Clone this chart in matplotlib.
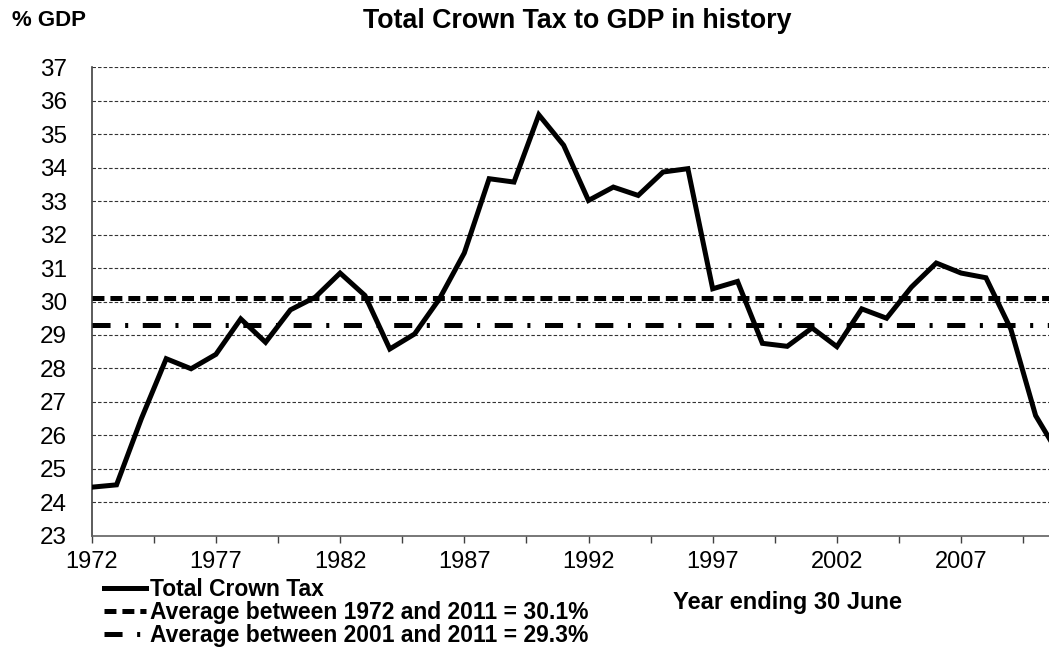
import matplotlib
matplotlib.use("Agg")
import matplotlib.pyplot as plt
from matplotlib.ticker import FixedLocator

plt.rcParams['font.family'] = ['Liberation Sans', 'DejaVu Sans']
plt.rcParams['lines.scale_dashes'] = False

years = list(range(1972, 2012))
total_crown_tax = [24.45, 24.52, 26.5, 28.29, 27.99, 28.42, 29.48, 28.78, 29.75, 30.13,
                   30.85, 30.18, 28.58, 29.03, 30.08, 31.45, 33.67, 33.57, 35.58, 34.67,
                   33.02, 33.42, 33.17, 33.87, 33.97, 30.38, 30.6, 28.75, 28.66, 29.21,
                   28.65, 29.78, 29.5, 30.43, 31.15, 30.85, 30.71, 29.18, 26.59, 25.35]
avg_1972_2011 = 30.1
avg_2001_2011 = 29.3
series_labels = ["Total Crown Tax",
                 "Average between 1972 and 2011 = 30.1%",
                 "Average between 2001 and 2011 = 29.3%"]
major_years = [1972, 1977, 1982, 1987, 1992, 1997, 2002, 2007]
y_ticks = list(range(23, 38))

W, H = 1049, 648
fig = plt.figure(figsize=(W / 100, H / 100), dpi=100)
ax_left, ax_right_px, ax_top, ax_bottom = 91.7, 1049, 67.3, 535.7
ax = fig.add_axes([ax_left / W, 1 - ax_bottom / H, (ax_right_px - ax_left) / W,
                   (ax_bottom - ax_top) / H])

xmax = 1972 + (ax_right_px - ax_left) / 24.84
ax.set_xlim(1972, xmax)
ax.set_ylim(23, 37)

# gridlines
for y in y_ticks[1:]:
    ax.axhline(y, color='#333333', lw=0.8, dashes=(2.5, 1.5), zorder=1)

l1, = ax.plot(years, total_crown_tax, color='black', lw=3.6, solid_joinstyle='miter',
              zorder=4, label=series_labels[0])
l2, = ax.plot([years[0], years[-1]], [avg_1972_2011] * 2, color='black', lw=3.6,
              dashes=(8.6, 4.3), zorder=3, label=series_labels[1])
l3, = ax.plot([years[0], years[-1]], [avg_2001_2011] * 2, color='black', lw=3.6,
              dashes=(13, 10.5, 2.2, 10.5), zorder=3, label=series_labels[2])

for s in ['top', 'right']:
    ax.spines[s].set_visible(False)
ax.spines['left'].set_color('#404040')
ax.spines['bottom'].set_color('#606060')
ax.spines['left'].set_linewidth(1.2)
ax.spines['bottom'].set_linewidth(1.2)

ax.xaxis.set_major_locator(FixedLocator(major_years))
ax.xaxis.set_minor_locator(FixedLocator([y + 2.5 for y in major_years]))
ax.set_xticklabels([str(y) for y in major_years])
ax.tick_params(axis='x', which='both', direction='out', length=5, width=1,
               color='#404040', labelsize=17, pad=6)
ax.set_yticks(y_ticks)
ax.tick_params(axis='y', length=0, labelsize=17.5, pad=18)

fig.text(363 / W, 1 - 21 / H, "Total Crown Tax to GDP in history", fontsize=19.3,
         fontweight='bold', ha='left', va='center')
fig.text(12 / W, 1 - 21 / H, "% GDP", fontsize=16, fontweight='bold',
         ha='left', va='center')
fig.text(673 / W, 1 - 602 / H, "Year ending 30 June", fontsize=17,
         fontweight='bold', ha='left', va='center')

leg = fig.legend(handles=[l1, l2, l3], loc='upper left',
                 bbox_to_anchor=(104 / W, 1 - 578 / H), frameon=False,
                 prop={'size': 16.5, 'weight': 'bold'}, handlelength=1.85,
                 handletextpad=0.15, labelspacing=0.0, borderpad=0, borderaxespad=0)

fig.savefig("out.png", dpi=100)
